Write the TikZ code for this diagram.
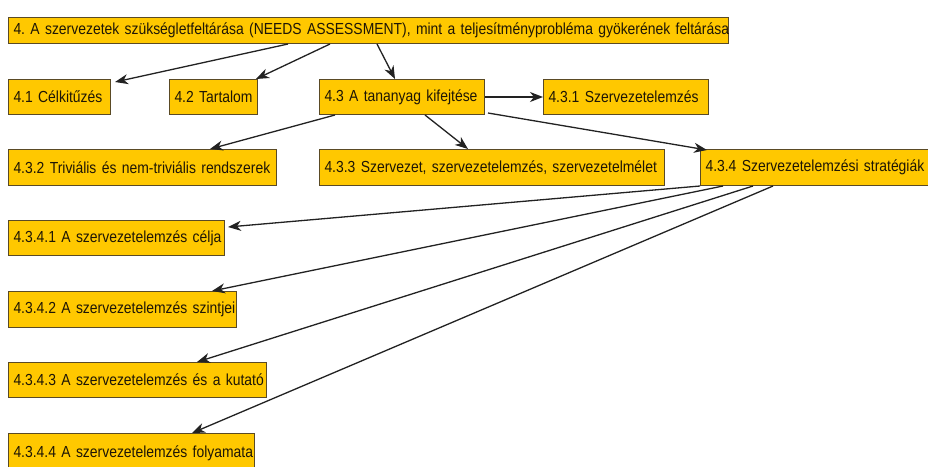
\documentclass[tikz,border=0pt]{standalone}
\usepackage{fontspec}
\setmainfont[FakeStretch=0.87]{Liberation Sans}
\usetikzlibrary{arrows.meta,calc}
\definecolor{boxfill}{HTML}{FFC800}
\definecolor{boxline}{HTML}{5A4A25}
\definecolor{boxtext}{HTML}{1E1606}
\definecolor{linkcol}{HTML}{222222}
\tikzset{
  topic/.style={draw=boxline, fill=boxfill, text=boxtext, anchor=north west,
    line width=1pt, inner xsep=5pt, inner ysep=0pt, align=left,
    font=\fontsize{16}{18}\selectfont\frenchspacing},
  link/.style={draw=linkcol, line width=1.3pt,
    -{Stealth[length=13pt,width=10pt,inset=4pt]}}
}
% box helper: name, x, y, width, height, label
\newcommand{\topicbox}[6]{%
  \node[topic, text width=#4pt-10pt, minimum height=#5pt] (#1) at (#2,#3) {\mbox{#6}};}
\begin{document}
\begin{tikzpicture}[x=1pt,y=-1pt]
\useasboundingbox (0,0) rectangle (928,466);
\fill[white] (0,0) rectangle (928,466);
\begin{scope}
\clip (0,0) rectangle (928,466);
\topicbox{root}{8}{17}{720}{26}{4. A szervezetek szükségletfeltárása (NEEDS ASSESSMENT), mint a teljesítményprobléma gyökerének feltárása}
\topicbox{n41}{8}{79}{102}{35}{4.1 Célkitűzés}
\topicbox{n42}{169}{79}{88}{35}{4.2 Tartalom}
\topicbox{n43}{319}{79}{165}{35}{4.3 A tananyag kifejtése}
\topicbox{n431}{543}{79}{165}{35}{4.3.1 Szervezetelemzés}
\topicbox{n432}{8}{149}{268}{36}{4.3.2 Triviális és nem-triviális rendszerek}
\topicbox{n433}{319}{149}{345}{36}{4.3.3 Szervezet, szervezetelemzés, szervezetelmélet}
\topicbox{n434}{700}{149}{240}{36}{4.3.4 Szervezetelemzési stratégiák}
\topicbox{n4341}{8}{220}{216}{35}{4.3.4.1 A szervezetelemzés célja}
\topicbox{n4342}{8}{291}{228}{36}{4.3.4.2 A szervezetelemzés szintjei}
\topicbox{n4343}{8}{362}{258}{35}{4.3.4.3 A szervezetelemzés és a kutató}
\topicbox{n4344}{8}{433}{246}{40}{4.3.4.4 A szervezetelemzés folyamata}

% first level
\draw[link] ($(root.south west)+(280,0)$) -- ($(n41.north east)+(4,3)$);
\draw[link] ($(root.south west)+(322,0)$) -- ($(n42.north east)+(-2,0)$);
\draw[link] ($(root.south west)+(369,0)$) -- ($(n43.north west)+(76,0)$);
% second level
\draw[link] (n43.east) -- (n431.west);
\draw[link] ($(n43.south west)+(16,0)$) -- ($(n432.north west)+(202,0)$);
\draw[link] ($(n43.south west)+(106,0)$) -- ($(n433.north west)+(149,0)$);
\draw[link] ($(n43.south east)+(3,-2)$) -- ($(n434.north west)+(7,1)$);
% third level
\draw[link] (n434.south west) -- ($(n4341.north east)+(3,7)$);
\draw[link] ($(n434.south west)+(23,0)$) -- ($(n4342.north west)+(204,0)$);
\draw[link] ($(n434.south west)+(53,0)$) -- ($(n4343.north west)+(189,0)$);
\draw[link] ($(n434.south west)+(73,0)$) -- ($(n4344.north west)+(184,0)$);
\end{scope}
\end{tikzpicture}
\end{document}
